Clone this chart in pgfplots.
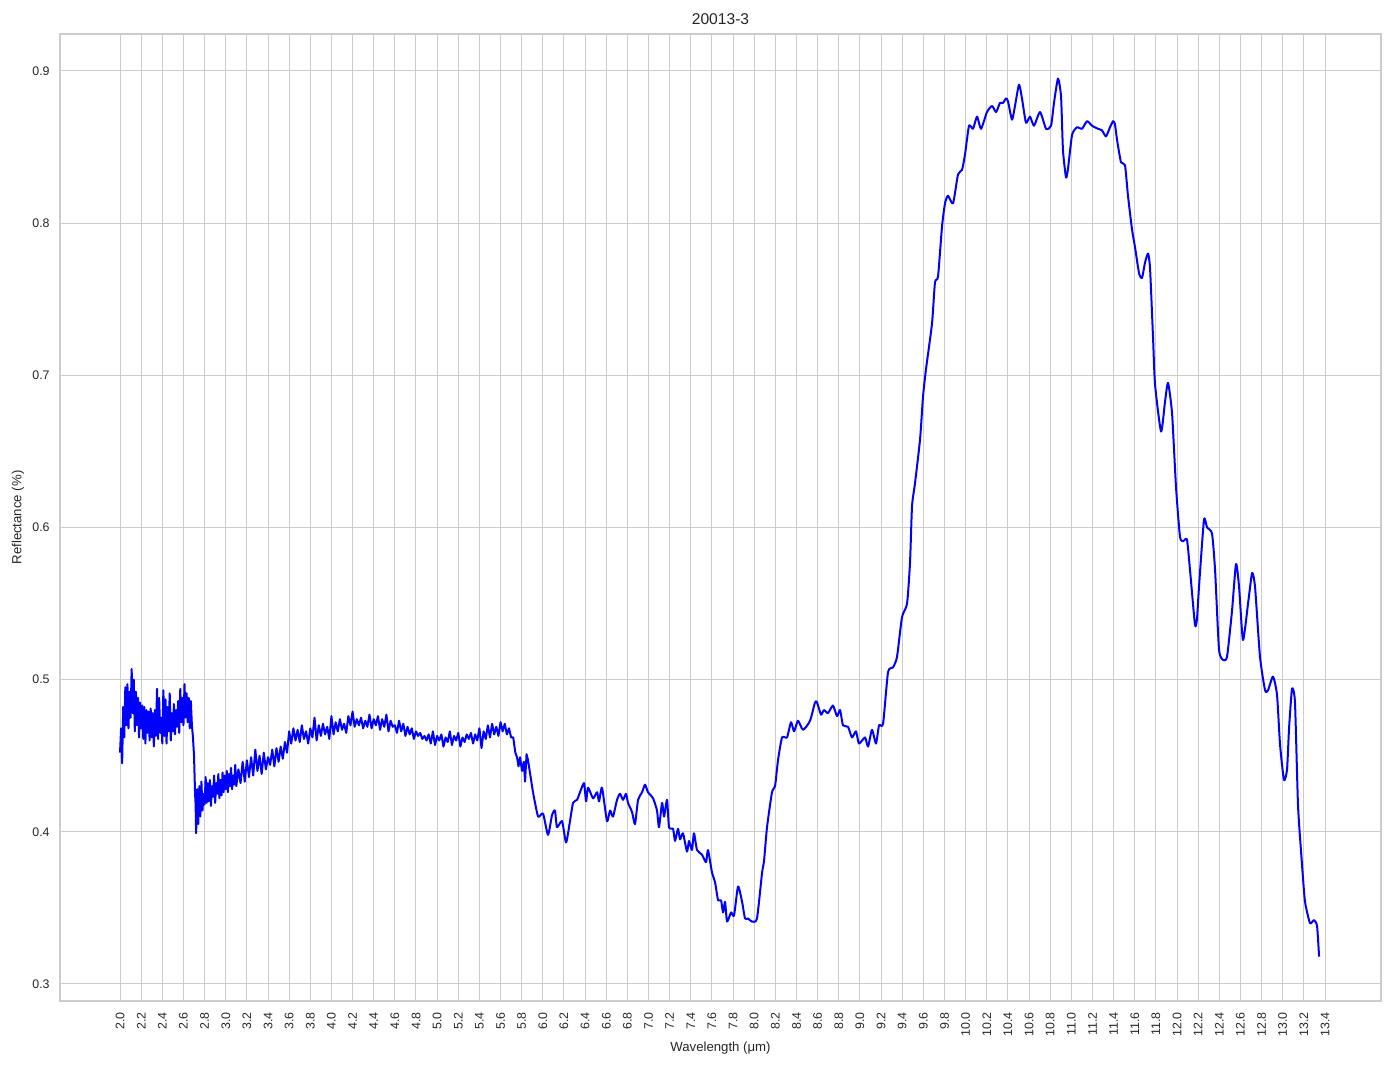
\documentclass[border=0pt]{standalone}
\usepackage{fontspec}
\setmainfont{Liberation Sans}
\usepackage{pgfplots}
\pgfplotsset{compat=1.18}
\definecolor{gridgray}{HTML}{CCCCCC}
\definecolor{txt}{HTML}{262626}
\pgfplotstableread{
x y
2.00 0.452
2.01 0.468
2.02 0.445
2.03 0.482
2.04 0.462
2.05 0.495
2.06 0.470
2.07 0.497
2.08 0.468
2.09 0.492
2.10 0.475
2.11 0.507
2.12 0.478
2.13 0.500
2.14 0.466
2.15 0.492
2.16 0.470
2.17 0.488
2.18 0.462
2.19 0.485
2.20 0.468
2.21 0.483
2.22 0.461
2.23 0.482
2.24 0.458
2.25 0.480
2.26 0.465
2.27 0.479
2.28 0.460
2.29 0.481
2.30 0.462
2.31 0.478
2.32 0.456
2.33 0.480
2.34 0.463
2.35 0.494
2.36 0.461
2.37 0.488
2.38 0.465
2.39 0.475
2.40 0.458
2.41 0.493
2.42 0.463
2.43 0.487
2.44 0.458
2.45 0.482
2.46 0.466
2.47 0.491
2.48 0.460
2.49 0.478
2.50 0.466
2.51 0.484
2.52 0.464
2.53 0.480
2.54 0.469
2.55 0.486
2.56 0.465
2.57 0.494
2.58 0.472
2.59 0.488
2.60 0.470
2.61 0.497
2.62 0.475
2.63 0.491
2.64 0.472
2.65 0.488
2.66 0.468
2.67 0.486
2.68 0.470
2.69 0.462
2.70 0.450
2.71 0.425
2.715 0.418
2.72 0.399
2.73 0.428
2.74 0.405
2.75 0.430
2.76 0.410
2.77 0.433
2.78 0.414
2.79 0.425
2.80 0.418
2.81 0.436
2.82 0.419
2.83 0.432
2.84 0.420
2.85 0.434
2.86 0.417
2.87 0.430
2.88 0.423
2.89 0.437
2.90 0.419
2.91 0.432
2.92 0.425
2.93 0.438
2.94 0.422
2.95 0.434
2.96 0.424
2.97 0.439
2.98 0.426
2.99 0.437
3.00 0.428
3.01 0.440
3.02 0.426
3.03 0.438
3.04 0.430
3.05 0.442
3.06 0.428
3.07 0.437
3.08 0.431
3.09 0.444
3.10 0.430
3.12 0.441
3.14 0.432
3.16 0.446
3.18 0.433
3.20 0.447
3.22 0.436
3.24 0.449
3.26 0.437
3.28 0.454
3.30 0.440
3.32 0.450
3.34 0.438
3.36 0.452
3.38 0.441
3.40 0.449
3.42 0.444
3.44 0.454
3.46 0.443
3.48 0.455
3.50 0.446
3.52 0.456
3.54 0.448
3.56 0.459
3.58 0.452
3.60 0.466
3.62 0.458
3.64 0.468
3.66 0.460
3.68 0.467
3.70 0.459
3.72 0.470
3.74 0.461
3.76 0.466
3.78 0.458
3.80 0.468
3.82 0.462
3.84 0.475
3.86 0.460
3.88 0.470
3.90 0.463
3.92 0.471
3.94 0.464
3.96 0.469
3.98 0.461
4.00 0.476
4.02 0.464
4.04 0.472
4.06 0.466
4.08 0.474
4.10 0.467
4.12 0.471
4.14 0.465
4.16 0.476
4.18 0.470
4.20 0.479
4.22 0.469
4.24 0.474
4.26 0.470
4.28 0.475
4.30 0.468
4.32 0.473
4.34 0.469
4.36 0.477
4.38 0.468
4.40 0.474
4.42 0.470
4.44 0.476
4.46 0.467
4.48 0.474
4.50 0.469
4.52 0.477
4.54 0.466
4.56 0.473
4.58 0.469
4.60 0.470
4.62 0.465
4.64 0.473
4.66 0.466
4.68 0.471
4.70 0.463
4.72 0.469
4.74 0.464
4.76 0.468
4.78 0.461
4.80 0.466
4.82 0.463
4.84 0.465
4.86 0.461
4.88 0.463
4.90 0.460
4.92 0.464
4.94 0.458
4.96 0.466
4.98 0.457
5.00 0.463
5.02 0.460
5.04 0.464
5.06 0.456
5.08 0.462
5.10 0.459
5.12 0.466
5.14 0.457
5.16 0.463
5.18 0.460
5.20 0.465
5.22 0.456
5.24 0.462
5.26 0.459
5.28 0.464
5.30 0.461
5.32 0.465
5.34 0.458
5.36 0.464
5.38 0.460
5.40 0.468
5.42 0.455
5.44 0.466
5.46 0.461
5.48 0.470
5.50 0.462
5.52 0.471
5.54 0.464
5.56 0.469
5.58 0.463
5.60 0.472
5.62 0.466
5.64 0.471
5.66 0.464
5.68 0.468
5.70 0.462
5.72 0.462
5.74 0.452
5.756 0.449
5.77 0.443
5.785 0.449
5.803 0.440
5.82 0.446
5.832 0.433
5.846 0.451
5.860 0.447
5.88 0.438
5.907 0.426
}\noisy
\pgfplotstableread{
x y
5.907 0.426
5.955 0.410
6.002 0.412
6.049 0.398
6.087 0.411
6.115 0.414
6.134 0.403
6.182 0.407
6.220 0.393
6.257 0.407
6.286 0.419
6.324 0.421
6.352 0.426
6.390 0.432
6.409 0.420
6.428 0.429
6.475 0.422
6.513 0.426
6.532 0.420
6.560 0.429
6.607 0.407
6.636 0.414
6.664 0.410
6.702 0.421
6.730 0.425
6.759 0.421
6.787 0.425
6.806 0.419
6.844 0.413
6.872 0.405
6.901 0.421
6.939 0.426
6.967 0.431
6.995 0.426
7.043 0.422
7.080 0.414
7.099 0.403
7.128 0.419
7.147 0.410
7.175 0.421
7.194 0.403
7.232 0.402
7.251 0.394
7.279 0.402
7.298 0.395
7.326 0.399
7.364 0.387
7.383 0.394
7.411 0.388
7.430 0.399
7.459 0.388
7.506 0.385
7.544 0.380
7.563 0.388
7.601 0.373
7.629 0.367
7.658 0.355
7.686 0.355
7.705 0.347
7.724 0.354
7.743 0.341
7.781 0.347
7.809 0.345
7.847 0.364
7.885 0.354
7.913 0.343
7.941 0.343
7.979 0.341
8.026 0.343
8.074 0.373
8.093 0.381
8.121 0.403
8.168 0.426
8.197 0.430
8.225 0.447
8.263 0.462
8.310 0.462
8.348 0.472
8.377 0.466
8.414 0.473
8.462 0.467
8.528 0.473
8.575 0.485
8.594 0.485
8.632 0.477
8.660 0.480
8.698 0.478
8.745 0.483
8.783 0.476
8.812 0.480
8.840 0.470
8.887 0.469
8.925 0.462
8.963 0.466
8.991 0.458
9.048 0.462
9.077 0.456
9.114 0.467
9.152 0.458
9.181 0.470
9.219 0.471
9.266 0.505
9.313 0.508
9.351 0.515
9.398 0.541
9.446 0.550
9.474 0.577
9.493 0.614
9.521 0.629
9.569 0.658
9.597 0.686
9.625 0.704
9.682 0.734
9.710 0.761
9.739 0.765
9.777 0.798
9.805 0.813
9.833 0.818
9.881 0.813
9.928 0.832
9.966 0.835
9.994 0.845
10.032 0.864
10.070 0.862
10.108 0.870
10.146 0.862
10.202 0.873
10.250 0.877
10.288 0.873
10.325 0.879
10.354 0.879
10.382 0.882
10.401 0.880
10.439 0.868
10.467 0.877
10.505 0.891
10.533 0.882
10.571 0.866
10.609 0.870
10.647 0.864
10.704 0.873
10.761 0.862
10.808 0.864
10.836 0.879
10.874 0.895
10.903 0.883
10.921 0.848
10.950 0.830
10.969 0.836
11.007 0.858
11.054 0.863
11.101 0.862
11.149 0.867
11.196 0.864
11.253 0.862
11.290 0.861
11.328 0.857
11.366 0.863
11.395 0.867
11.413 0.865
11.432 0.855
11.470 0.840
11.508 0.838
11.536 0.818
11.574 0.796
11.603 0.784
11.641 0.767
11.669 0.764
11.697 0.774
11.726 0.780
11.745 0.770
11.773 0.725
11.792 0.694
11.849 0.663
11.887 0.683
11.915 0.695
11.953 0.675
11.991 0.626
12.028 0.594
12.057 0.591
12.094 0.592
12.123 0.572
12.170 0.536
12.189 0.540
12.208 0.561
12.255 0.605
12.284 0.600
12.331 0.596
12.360 0.572
12.397 0.520
12.435 0.513
12.473 0.515
12.520 0.545
12.558 0.576
12.587 0.561
12.624 0.526
12.672 0.550
12.710 0.570
12.738 0.561
12.785 0.515
12.833 0.493
12.861 0.493
12.908 0.502
12.946 0.490
12.975 0.457
13.012 0.434
13.041 0.441
13.060 0.468
13.088 0.494
13.116 0.485
13.145 0.417
13.183 0.378
13.211 0.354
13.258 0.340
13.296 0.342
13.325 0.338
13.344 0.318
}\smoothpart
\begin{document}
\begin{tikzpicture}
\begin{axis}[
  name=ax,
  scale only axis,
  width=660.5pt, height=483.5pt,
  xmin=1.432, xmax=13.93, ymin=0.2888, ymax=0.9243,
  axis line style={gridgray, line width=0.6pt},
  grid=major,
  major grid style={gridgray, line width=0.5pt},
  major tick length=0pt,
  tick style={draw=none},
  xtick={2.0,2.2,2.4,2.6,2.8,3.0,3.2,3.4,3.6,3.8,4.0,4.2,4.4,4.6,4.8,5.0,5.2,5.4,5.6,5.8,6.0,6.2,6.4,6.6,6.8,7.0,7.2,7.4,7.6,7.8,8.0,8.2,8.4,8.6,8.8,9.0,9.2,9.4,9.6,9.8,10.0,10.2,10.4,10.6,10.8,11.0,11.2,11.4,11.6,11.8,12.0,12.2,12.4,12.6,12.8,13.0,13.2,13.4},
  ytick={0.3,0.4,0.5,0.6,0.7,0.8,0.9},
  /pgf/number format/assume math mode=true,
  /pgf/number format/fixed,
  /pgf/number format/fixed zerofill,
  /pgf/number format/precision=1,
  xticklabel style={rotate=90, anchor=east, inner sep=0pt, font=\fontsize{6.2}{7}\selectfont, text=txt},
  yticklabel style={anchor=east, inner sep=0pt, font=\fontsize{6.2}{7}\selectfont, text=txt},
  xticklabel shift=5.5pt,
  yticklabel shift=5pt,
  xlabel={Wavelength (μm)},
  ylabel={Reflectance (\%)},
  title={20013-3},
  every axis title shift=0pt,
  xlabel style={at={(axis description cs:0.5,-0.0486)}, anchor=center, font=\fontsize{6.6}{8}\selectfont, text=txt},
  ylabel style={at={(axis description cs:-0.0318,0.5)}, anchor=center, font=\fontsize{6.6}{8}\selectfont, text=txt},
  title style={at={(axis description cs:0.5,1.0155)}, anchor=center, font=\fontsize{7.8}{9}\selectfont, text=txt},
]
\addplot[color=blue, line width=1.0pt, line join=round] table[x=x, y=y] {\noisy};
\addplot[color=blue, line width=1.0pt, line join=round, smooth, tension=0.35] table[x=x, y=y] {\smoothpart};
\end{axis}
\pgfresetboundingbox
\path ([shift={(-30pt,-34pt)}]ax.south west) rectangle ([shift={(6.5pt,17pt)}]ax.north east);
\end{tikzpicture}
\end{document}
